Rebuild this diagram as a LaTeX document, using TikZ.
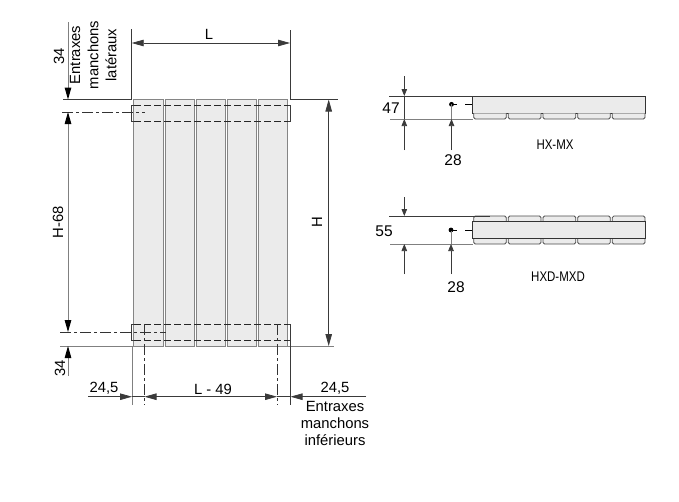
\documentclass[tikz,border=0pt]{standalone}
\usepackage{fontspec}
\setmainfont{Liberation Sans}
\usetikzlibrary{arrows.meta}
\definecolor{panelfill}{HTML}{EBEBEB}
\definecolor{panelline}{HTML}{858585}
\definecolor{dimline}{HTML}{3A3A3A}
\definecolor{softline}{HTML}{808080}
\tikzset{
  dimln/.style={draw=dimline,line width=0.75pt},
  softln/.style={draw=softline,line width=1pt},
  bigtip/.style={-{Triangle[length=12pt,width=6.5pt]}},
  bigtips/.style={{Triangle[length=12pt,width=6.5pt]}-{Triangle[length=12pt,width=6.5pt]}},
  smalltip/.style={-{Triangle[length=7pt,width=5.5pt]}},
  panel/.style={draw=panelline,fill=panelfill,line width=1pt},
  slab/.style={draw=black!80,fill=panelfill,line width=0.8pt},
  fin/.style={draw=black!70,fill=panelfill,line width=0.8pt,rounded corners=1.5pt},
  hid/.style={draw=black!85,line width=0.8pt,dash pattern=on 7pt off 3pt},
  axisln/.style={draw=black!80,line width=0.7pt,dash pattern=on 11pt off 3pt on 3pt off 3pt},
  lbl/.style={inner sep=0pt,font=\fontsize{14.8}{16}\selectfont},
  lblrot/.style={lbl,rotate=90},
  numlbl/.style={inner sep=0pt,font=\fontsize{15.5}{16}\selectfont},
  narrow/.style={inner sep=0pt,font=\fontsize{14}{16}\selectfont,xscale=0.82},
}
\begin{document}
\begin{tikzpicture}[x=1pt,y=-1pt]
\useasboundingbox (0,0) rectangle (679,501);
\fill[white] (0,0) rectangle (679,501);

% front view panels
\foreach \a/\b in {133.7/163,165.3/194.3,196.3/225.3,227.3/256,258.3/287.5}
  \draw[panel] (\a,99.5) rectangle (\b,346);

% nipple outlines, top
\draw[hid] (134,105) -- (288,105);
\draw[hid] (134,121) -- (288,121);
\draw[dimln] (134,105) -- (131.7,105) -- (131.7,121) -- (134,121);
\draw[dimln] (288,105) -- (290.5,105) -- (290.5,121) -- (288,121);
% nipple outlines, bottom
\draw[hid] (134,324) -- (288,324);
\draw[hid] (134,340) -- (288,340);
\draw[dimln] (134,324) -- (131.7,324) -- (131.7,340) -- (134,340);
\draw[dimln] (288,324) -- (290.5,324) -- (290.5,340) -- (288,340);

% axes
\draw[axisln] (62,112) -- (145,112);
\draw[axisln] (60,332) -- (166,332);
\draw[axisln] (144.5,324) -- (144.5,405);
\draw[axisln] (277,324) -- (277,405);

% extension lines
\draw[dimln] (131.7,29) -- (131.7,99.5);
\draw[dimln] (290,30) -- (290,99);
\draw[dimln] (63,99.5) -- (131.7,99.5);
\draw[dimln] (290,99.5) -- (338,99.5);
\draw[softln] (60,346) -- (133,346);
\draw[softln] (288,346) -- (334,346);
\draw[softln] (132,346) -- (132,405);
\draw[dimln] (290.5,340) -- (290.5,405);

% dimensions
\coordinate (Lleft) at (131.7,43);
\coordinate (Lright) at (290,43);
\draw[dimln,bigtips] (Lleft) -- (Lright);
\node[lbl] (labL) at (209,34) {L};

\coordinate (Htop) at (328.7,99.5);
\coordinate (Hbot) at (328.7,346);
\draw[dimln,bigtips] (Htop) -- (Hbot);
\node[lblrot] (labH) at (317,222) {H};

\coordinate (s1) at (68,22);
\coordinate (s1t) at (68,99.5);
\draw[softln,bigtip,-{Triangle[length=12pt,width=6.5pt,black]}] (s1) -- (s1t);
\coordinate (s2t) at (68,112);
\coordinate (s2b) at (68,332);
\draw[softln,{Triangle[length=12pt,width=6.5pt,black]}-{Triangle[length=12pt,width=6.5pt,black]}] (s2t) -- (s2b);
\coordinate (s3) at (68,376);
\coordinate (s3t) at (68,346);
\draw[softln,-{Triangle[length=12pt,width=6.5pt,black]}] (s3) -- (s3t);

\node[lblrot] (lab34a) at (59,56) {34};
\node[lblrot] (lab68) at (58,222) {H-68};
\node[lblrot] (lab34b) at (60,368) {34};
\node[lblrot] (labE) at (75,55) {Entraxes};
\node[lblrot] (labM) at (93,55) {manchons};
\node[lblrot] (labLa) at (111,55) {latéraux};

\coordinate (b1) at (88,396.7);
\coordinate (b2) at (132,396.7);
\draw[dimln,bigtip] (b1) -- (b2);
\coordinate (b3) at (144.5,396.7);
\coordinate (b4) at (277,396.7);
\draw[dimln,bigtips] (b3) -- (b4);
\coordinate (b5) at (366,396.7);
\coordinate (b6) at (290.5,396.7);
\draw[dimln,bigtip] (b5) -- (b6);
\draw[dimln] (132,396.7) -- (144.5,396.7);
\draw[dimln] (277,396.7) -- (290.5,396.7);

\node[lbl] (lab245a) at (104,388) {24,5};
\node[lbl] (lab49) at (213,389) {L - 49};
\node[lbl] (lab245b) at (335,388.5) {24,5};
\node[lbl] (labE2) at (335,406.5) {Entraxes};
\node[lbl] (labM2) at (335,423) {manchons};
\node[lbl] (labI2) at (335,440) {inférieurs};

% HX-MX section
\draw[slab] (472.3,96) rectangle (645.7,113.3);
\foreach \a/\b in {473.7/506.3,508.3/541,543/575.7,577.7/610.3,612.3/645}
  \draw[fin] (\a,113.3) -- (\a,119) -- (\b,119) -- (\b,113.3);
\draw[dimln] (389,96) -- (490,96);
\draw[softln] (390,119) -- (473,119);
\coordinate (a1) at (404.3,76);
\coordinate (a2) at (404.3,96);
\coordinate (a3) at (404.3,150);
\coordinate (a4) at (404.3,119);
\draw[dimln,smalltip] (a1) -- (a2);
\draw[dimln,smalltip] (a3) -- (a4);
\draw[dimln] (a2) -- (a4);
\node[numlbl] (lab47) at (391,108) {47};
\coordinate (d1) at (451.5,104.3);
\coordinate (d1b) at (451.5,150);
\coordinate (d1t) at (451.5,119);
\fill[black] (d1) circle (2.4pt);
\draw[softln] (d1) -- (d1t);
\draw[dimln,smalltip] (d1b) -- (d1t);
\draw[black,line width=0.8pt] (451.5,104.3) -- (457,104.3) (465,104.3) -- (472.3,104.3);
\node[numlbl] (lab28a) at (453,160) {28};
\node[narrow] (labHX) at (555,145) {HX-MX};

% HXD-MXD section
\foreach \a/\b in {473.7/506.3,508.3/541,543/575.7,577.7/610.3,612.3/645}{
  \draw[fin] (\a,221.7) -- (\a,216) -- (\b,216) -- (\b,221.7);
  \draw[fin] (\a,238.3) -- (\a,244) -- (\b,244) -- (\b,238.3);
}
\draw[slab] (472,221.7) rectangle (645.7,238.3);
\draw[dimln] (389,216) -- (490,216);
\draw[softln] (390,244) -- (473,244);
\coordinate (c1) at (404.3,197);
\coordinate (c2) at (404.3,216);
\coordinate (c3) at (404.3,274);
\coordinate (c4) at (404.3,244);
\draw[dimln,smalltip] (c1) -- (c2);
\draw[dimln,smalltip] (c3) -- (c4);
\node[numlbl] (lab55) at (384,231) {55};
\coordinate (d2) at (451,230);
\coordinate (d2b) at (451,274);
\coordinate (d2t) at (451,244);
\fill[black] (d2) circle (2.4pt);
\draw[softln] (d2) -- (d2t);
\draw[dimln,smalltip] (d2b) -- (d2t);
\draw[black,line width=0.8pt] (451,230) -- (457,230) (465,230) -- (472,230);
\node[numlbl] (lab28b) at (456,287) {28};
\node[narrow] (labHXD) at (558,277) {HXD-MXD};
\end{tikzpicture}
\end{document}
